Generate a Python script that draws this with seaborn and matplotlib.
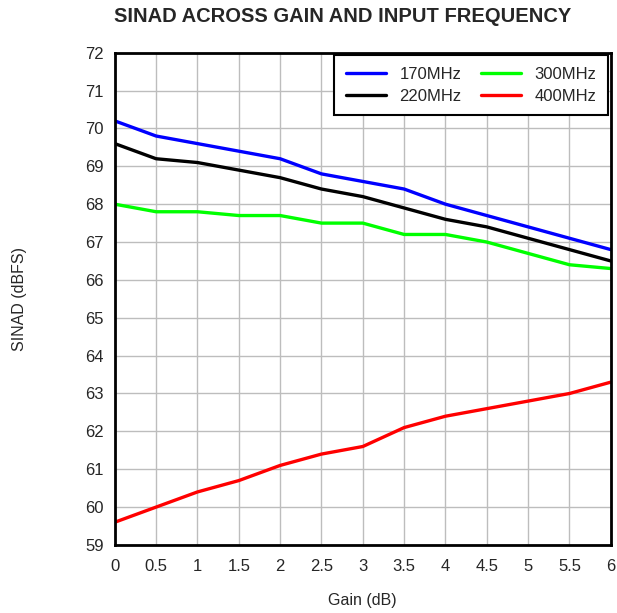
import pandas as pd
import seaborn as sns
import matplotlib.pyplot as plt

# Gain steps (dB) and SINAD per input frequency (dBFS)
gain = [0, 0.5, 1, 1.5, 2, 2.5, 3, 3.5, 4, 4.5, 5, 5.5, 6]
sinad_170 = [70.2, 69.8, 69.6, 69.4, 69.2, 68.8, 68.6, 68.4, 68.0, 67.7, 67.4, 67.1, 66.8]
sinad_220 = [69.6, 69.2, 69.1, 68.9, 68.7, 68.4, 68.2, 67.9, 67.6, 67.4, 67.1, 66.8, 66.5]
sinad_300 = [68.0, 67.8, 67.8, 67.7, 67.7, 67.5, 67.5, 67.2, 67.2, 67.0, 66.7, 66.4, 66.3]
sinad_400 = [59.6, 60.0, 60.4, 60.7, 61.1, 61.4, 61.6, 62.1, 62.4, 62.6, 62.8, 63.0, 63.3]
freqs = ["170MHz", "220MHz", "300MHz", "400MHz"]
colors = ["#0000ff", "#000000", "#00ff00", "#ff0000"]

df = pd.concat([
    pd.DataFrame({"gain": gain, "sinad": vals, "freq": f})
    for f, vals in zip(freqs, [sinad_170, sinad_220, sinad_300, sinad_400])
])

sns.set_style("white")
plt.rcParams["font.family"] = ["Liberation Sans", "DejaVu Sans"]

fig = plt.figure(figsize=(6.17, 6.13), dpi=100)
ax = fig.add_axes([0.186, 0.111, 0.804, 0.803])

sns.lineplot(data=df, x="gain", y="sinad", hue="freq", hue_order=freqs,
             palette=colors, linewidth=2.4, ax=ax, legend=False)

ax.set_xlim(0, 6)
ax.set_ylim(59, 72)
ax.set_xticks(gain)
ax.set_xticklabels([f"{g:g}" for g in gain])
ax.set_yticks(range(59, 73))
ax.tick_params(axis="both", labelsize=12, length=0)
ax.tick_params(axis="x", pad=10)
ax.tick_params(axis="y", pad=8)
ax.grid(True, color="#bdbdbd", linewidth=1)
for s in ax.spines.values():
    s.set_color("black")
    s.set_linewidth(2)

ax.set_xlabel("Gain (dB)", fontsize=11.5, labelpad=14)
ax.set_ylabel("SINAD (dBFS)", fontsize=11.5, labelpad=42)
ax.set_title("SINAD ACROSS GAIN AND INPUT FREQUENCY", fontsize=14.5,
             fontweight="bold", x=0.46, pad=22)

handles = [plt.Line2D([], [], color=c, linewidth=2.4) for c in colors]
leg = ax.legend(handles, freqs, ncol=2, loc="upper right", fontsize=12,
                fancybox=False, framealpha=1, edgecolor="black",
                borderaxespad=0.15, handlelength=2.4, columnspacing=1.2,
                labelspacing=0.4, borderpad=0.7)
leg.get_frame().set_linewidth(1.5)

fig.savefig("out.png", dpi=100)
